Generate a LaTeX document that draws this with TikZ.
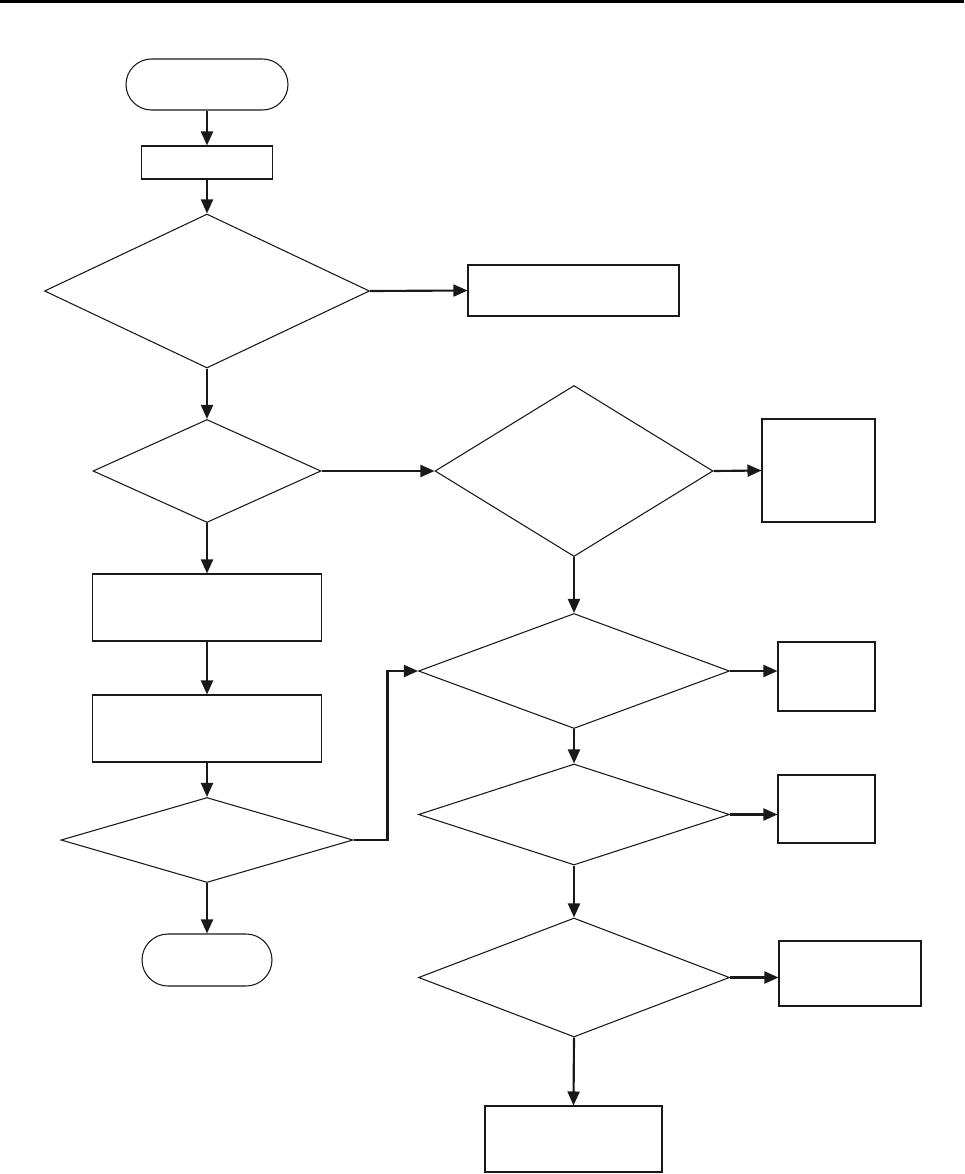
\documentclass[tikz,border=0pt]{standalone}
\usetikzlibrary{shapes.geometric,shapes.misc,arrows.meta}
\begin{document}
\begin{tikzpicture}[x=0.75pt,y=-0.75pt,
  shp/.style={draw=black!90,line width=0.8pt,inner sep=0pt,fill=white},
  box/.style={shp,rectangle},
  dec/.style={shp,diamond},
  term/.style={shp,rounded rectangle},
  arr/.style={draw=black!90,line width=1.6pt,-{Triangle[length=10.5pt,width=9pt]}}]
\useasboundingbox (0,0) rectangle (964,1174);
\draw[line width=2.2pt] (0,1.5) -- (964,1.5);
% left column
\node[term,minimum width=121.5pt,minimum height=38.25pt] (start) at (207,84.5) {};
\node[box,minimum width=98.25pt,minimum height=24.75pt] (b1) at (207,162.5) {};
\node[dec,minimum width=243.75pt,minimum height=115.5pt] (d1) at (207,291) {};
\node[box,minimum width=158.25pt,minimum height=38.25pt] (r1) at (573.5,290.5) {};
\node[dec,minimum width=171pt,minimum height=77.25pt] (d2) at (207,471) {};
\node[box,minimum width=171.75pt,minimum height=50.25pt] (ba) at (207,607.5) {};
\node[box,minimum width=171.75pt,minimum height=50.25pt] (bb) at (207,728.5) {};
\node[dec,minimum width=219pt,minimum height=63.75pt] (d4) at (207,840) {};
\node[term,minimum width=97.5pt,minimum height=39pt] (end) at (207,960) {};
% right column
\node[dec,minimum width=208.5pt,minimum height=128.25pt] (d3) at (574,471) {};
\node[box,minimum width=84.75pt,minimum height=77.25pt] (r3) at (818.5,470.5) {};
\node[dec,minimum width=233.25pt,minimum height=86.25pt] (d5) at (574,671) {};
\node[box,minimum width=72.75pt,minimum height=51.75pt] (r5) at (826.5,676.5) {};
\node[dec,minimum width=233.25pt,minimum height=75.75pt] (d6) at (574,814.5) {};
\node[box,minimum width=72.75pt,minimum height=51pt] (r6) at (826.5,809) {};
\node[dec,minimum width=233.25pt,minimum height=89.25pt] (d7) at (574,977.5) {};
\node[box,minimum width=106.5pt,minimum height=48.75pt] (r7) at (850,973.5) {};
\node[box,minimum width=132.75pt,minimum height=49.5pt] (bot) at (573.5,1139) {};
% connectors
\draw[arr] (start) -- (b1);
\draw[arr] (b1) -- (d1.north);
\draw[arr] (d1.east) -- (r1.west);
\draw[arr] (d1.south) -- (d2.north);
\draw[arr] (d2.east) -- (d3.west);
\draw[arr] (d3.east) -- (r3.west);
\draw[arr] (d2.south) -- (ba.north);
\draw[arr] (ba) -- (bb);
\draw[arr] (bb.south) -- (d4.north);
\draw[arr] (d4.south) -- (end.north);
\draw[arr] (d4.east) -- ++(34,0) |- (d5.west);
\draw[arr] (d3.south) -- (d5.north);
\draw[arr] (d5.east) -- (r5.west |- d5.east);
\draw[arr] (d5.south) -- (d6.north);
\draw[arr] (d6.east) -- (r6.west |- d6.east);
\draw[arr] (d6.south) -- (d7.north);
\draw[arr] (d7.east) -- (r7.west |- d7.east);
\draw[arr] (d7.south) -- (bot.north);
\end{tikzpicture}
\end{document}
